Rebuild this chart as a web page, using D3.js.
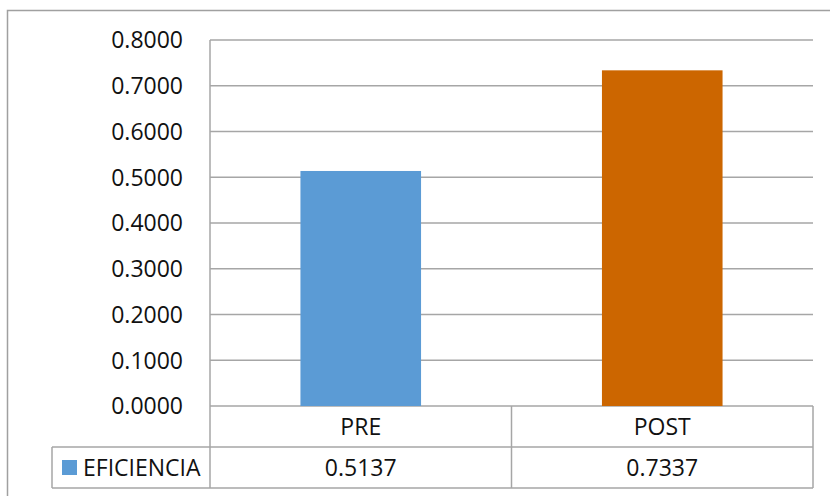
<!DOCTYPE html>
<html>
<head>
<meta charset="utf-8">
<script src="https://cdn.jsdelivr.net/npm/d3@7/dist/d3.min.js"></script>
<style>
  html, body { margin: 0; padding: 0; background: #fff; }
  svg text { font-family: "Open Sans", sans-serif; fill: #111; }
</style>
</head>
<body>
<svg id="chart" width="830" height="496"></svg>
<script>
// Efficiency before and after
const categories = ["PRE", "POST"];
const seriesName = "EFICIENCIA";
const values = [0.5137, 0.7337];
const colors = ["#5B9BD5", "#CC6600"];
const yTicks = [0, 0.1, 0.2, 0.3, 0.4, 0.5, 0.6, 0.7, 0.8];

const svg = d3.select("#chart");
const plotL = 210, plotR = 813, plotT = 40, plotB = 406;
const rowH = 41;
const gridColor = "#a6a6a6";
const fontSize = 23;

// outer frame
svg.append("rect")
  .attr("x", 7.5).attr("y", 10.5)
  .attr("width", 840).attr("height", 500)
  .attr("fill", "none").attr("stroke", "#a0a0a0").attr("stroke-width", 1.5);

const x = d3.scaleBand().domain(categories).range([plotL, plotR]).paddingInner(0).paddingOuter(0);
const y = d3.scaleLinear().domain([0, 0.8]).range([plotB, plotT]);

// horizontal gridlines
svg.append("g").selectAll("line").data(yTicks).join("line")
  .attr("x1", plotL).attr("x2", plotR)
  .attr("y1", d => y(d)).attr("y2", d => y(d))
  .attr("stroke", gridColor).attr("stroke-width", 1.5);

// vertical axis line
svg.append("line")
  .attr("x1", plotL).attr("x2", plotL).attr("y1", plotT).attr("y2", plotB)
  .attr("stroke", gridColor).attr("stroke-width", 1.5);

// tick labels
svg.append("g").selectAll("text").data(yTicks).join("text")
  .attr("x", 183).attr("y", d => y(d))
  .attr("dy", "0.36em")
  .attr("text-anchor", "end")
  .attr("font-size", fontSize)
  .text(d => d3.format(".4f")(d));

// bars
const barW = x.bandwidth() * 0.4;
svg.append("g").selectAll("rect").data(values).join("rect")
  .attr("x", (d, i) => x(categories[i]) + (x.bandwidth() - barW) / 2)
  .attr("y", d => y(d))
  .attr("width", barW)
  .attr("height", d => y(0) - y(d))
  .attr("fill", (d, i) => colors[i]);

// data table
const tbl = svg.append("g").attr("fill", "none").attr("stroke", gridColor).attr("stroke-width", 1.5);
tbl.append("line").attr("x1", plotL).attr("x2", plotR).attr("y1", plotB + rowH).attr("y2", plotB + rowH);
tbl.append("line").attr("x1", 52).attr("x2", plotR).attr("y1", plotB + 2 * rowH).attr("y2", plotB + 2 * rowH);
tbl.append("line").attr("x1", 52).attr("x2", plotL).attr("y1", plotB + rowH).attr("y2", plotB + rowH);
tbl.append("line").attr("x1", 52).attr("x2", 52).attr("y1", plotB + rowH).attr("y2", plotB + 2 * rowH);
tbl.append("line").attr("x1", plotL).attr("x2", plotL).attr("y1", plotB).attr("y2", plotB + 2 * rowH);
categories.forEach(c => {
  tbl.append("line").attr("x1", x(c) + x.bandwidth()).attr("x2", x(c) + x.bandwidth())
    .attr("y1", plotB).attr("y2", plotB + 2 * rowH);
});

svg.append("g").selectAll("text").data(categories).join("text")
  .attr("x", d => x(d) + x.bandwidth() / 2)
  .attr("y", plotB + rowH / 2)
  .attr("dy", "0.36em")
  .attr("text-anchor", "middle")
  .attr("font-size", fontSize)
  .text(d => d);

svg.append("g").selectAll("text").data(values).join("text")
  .attr("x", (d, i) => x(categories[i]) + x.bandwidth() / 2)
  .attr("y", plotB + rowH * 1.5)
  .attr("dy", "0.36em")
  .attr("text-anchor", "middle")
  .attr("font-size", fontSize)
  .text(d => d3.format(".4f")(d));

// legend key in table
svg.append("rect").attr("x", 62).attr("y", 460).attr("width", 15).attr("height", 15).attr("fill", colors[0]);
svg.append("text").attr("x", 83).attr("y", plotB + rowH * 1.5).attr("dy", "0.36em")
  .attr("font-size", fontSize)
  .text(seriesName);
</script>
</body>
</html>
